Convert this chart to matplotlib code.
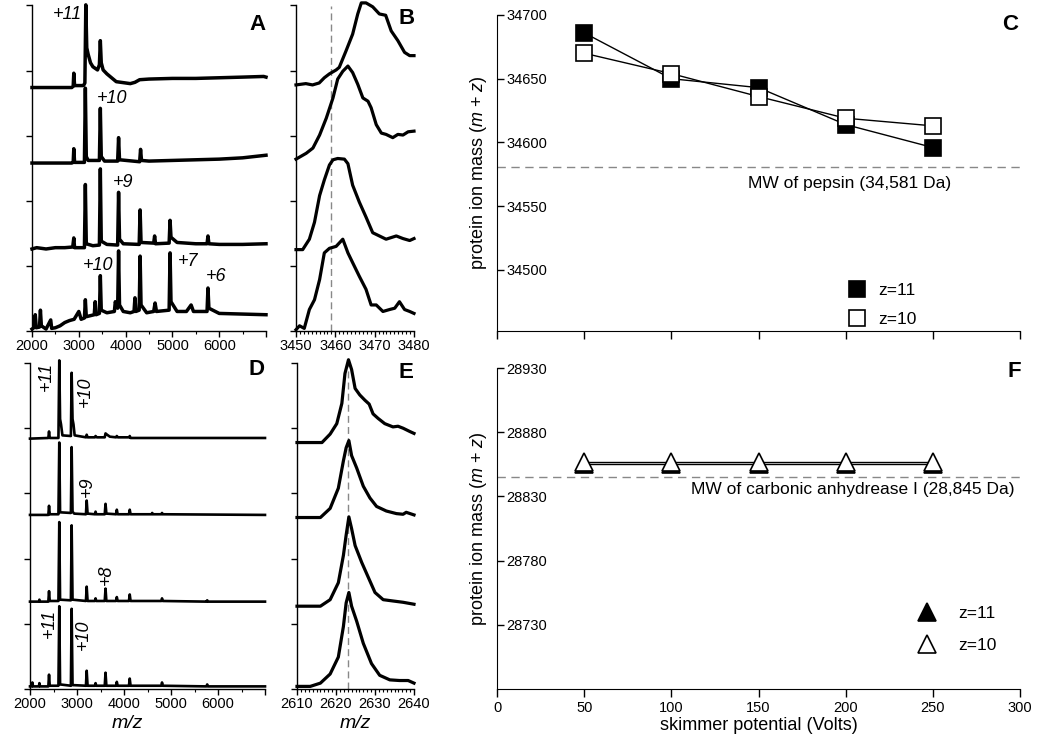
import matplotlib
matplotlib.use("Agg")
import matplotlib.pyplot as plt
from matplotlib.ticker import MultipleLocator

plt.rcParams["font.family"] = ["Liberation Sans", "DejaVu Sans"]
plt.rcParams["mathtext.fontset"] = "custom"
plt.rcParams["mathtext.rm"] = "Liberation Sans"
plt.rcParams["mathtext.it"] = "Liberation Sans:italic"

# ---------------- panel A: pepsin spectra (top -> bottom) ----------------
a_offsets = [3.74, 2.58, 1.26, 0.0]
a1_mz = [2000, 2850, 2880, 2893, 2910, 3100, 3130, 3150, 3170, 3200, 3250, 3300, 3400, 3440, 3460, 3480,
         3520, 3600, 3700, 3800, 3900, 4000, 4100, 4200, 4300, 4500, 5000, 5500, 6000, 6500, 6950, 7000]
a1_int = [0, 0, 0.02, 0.22, 0.03, 0.03, 0.07, 1.27, 0.61, 0.51, 0.38, 0.32, 0.27, 0.35, 0.72, 0.38,
          0.27, 0.21, 0.15, 0.09, 0.08, 0.07, 0.06, 0.08, 0.12, 0.13, 0.14, 0.14, 0.15, 0.16, 0.17, 0.16]
a2_mz = [2000, 2850, 2880, 2893, 2910, 3120, 3140, 3160, 3200, 3440, 3460, 3480, 3550, 3830, 3850, 3870,
         4300, 4320, 4340, 4500, 5000, 5500, 6000, 6500, 7000]
a2_int = [0, 0, 0.01, 0.22, 0.01, 0.01, 1.15, 0.10, 0.04, 0.04, 0.84, 0.10, 0.03, 0.03, 0.39, 0.05,
          0.02, 0.21, 0.04, 0.03, 0.04, 0.05, 0.06, 0.08, 0.12]
a3_mz = [2000, 2100, 2300, 2500, 2700, 2870, 2893, 2910, 3120, 3140, 3160, 3300, 3440, 3460, 3480, 3600,
         3830, 3850, 3870, 3950, 4290, 4310, 4330, 4600, 4620, 4640, 4930, 4950, 4970, 5100, 5500, 5740,
         5760, 5780, 6000, 6500, 7000]
a3_int = [0, 0.02, 0, 0.02, 0.02, 0.03, 0.17, 0.02, 0.02, 0.99, 0.08, 0.05, 0.06, 1.23, 0.12, 0.07,
          0.06, 0.87, 0.15, 0.08, 0.07, 0.60, 0.10, 0.09, 0.20, 0.08, 0.09, 0.44, 0.18, 0.10, 0.08, 0.08,
          0.20, 0.08, 0.07, 0.07, 0.08]
a4_mz = [2000, 2040, 2070, 2090, 2160, 2180, 2200, 2300, 2400, 2420, 2500, 2600, 2700, 2800, 2900, 3000,
         3050, 3120, 3140, 3160, 3330, 3350, 3370, 3440, 3460, 3480, 3600, 3760, 3780, 3830, 3850, 3870,
         3950, 4100, 4180, 4200, 4220, 4290, 4310, 4330, 4450, 4600, 4630, 4660, 4930, 4950, 4970, 5100,
         5300, 5400, 5450, 5740, 5760, 5780, 6000, 6500, 7000]
a4_int = [0.03, 0.05, 0.25, 0.05, 0.06, 0.32, 0.08, 0.03, 0.17, 0.04, 0.05, 0.08, 0.13, 0.16, 0.18, 0.30,
          0.18, 0.20, 0.48, 0.22, 0.25, 0.45, 0.25, 0.27, 0.85, 0.32, 0.28, 0.30, 0.45, 0.35, 1.23, 0.40,
          0.30, 0.28, 0.30, 0.51, 0.30, 0.32, 1.15, 0.40, 0.28, 0.30, 0.43, 0.30, 0.32, 1.20, 0.45, 0.30,
          0.30, 0.40, 0.30, 0.30, 0.66, 0.35, 0.27, 0.26, 0.25]
a_labels = ["+11", "+10", "+9", "+10", "+7", "+6"]
a_label_mz = [2749, 3713, 3949, 3413, 5340, 5940]
a_label_y = [4.86, 3.57, 2.28, 1.00, 1.06, 0.83]

# ---------------- panel B: +10 pepsin peak zoom ----------------
b_offsets = [3.78, 2.64, 1.25, 0.0]
b1_mz = [3450, 3452.5, 3454.2, 3455.9, 3457.2, 3458.5, 3460.2, 3461.0, 3462.7, 3464.4, 3465.7,
         3466.6, 3467.8, 3469.5, 3471.2, 3472.8, 3474.2, 3475.9, 3477.6, 3478.9, 3480]
b1_int = [0, 0.02, 0, 0.03, 0.11, 0.17, 0.23, 0.27, 0.52, 0.78, 1.09,
          1.26, 1.26, 1.20, 1.09, 1.07, 0.83, 0.68, 0.50, 0.45, 0.45]
b2_mz = [3450, 3452.6, 3454.3, 3456.0, 3457.7, 3459.4, 3460.6, 3461.9, 3463.2, 3464.4, 3465.7,
         3467.0, 3468.3, 3469.1, 3470.4, 3471.7, 3472.9, 3474.6, 3475.9, 3477.2, 3478.5, 3480]
b2_int = [0, 0.09, 0.17, 0.37, 0.63, 0.94, 1.23, 1.35, 1.43, 1.33, 1.15,
          0.94, 0.89, 0.79, 0.53, 0.40, 0.38, 0.33, 0.38, 0.37, 0.42, 0.43]
b3_mz = [3450, 3451.7, 3453.4, 3454.7, 3456.0, 3457.2, 3458.5, 3459.4, 3460.6, 3462.3, 3463.2,
         3464.4, 3466.1, 3467.8, 3469.5, 3471.2, 3472.9, 3475.5, 3477.2, 3478.9, 3480]
b3_int = [0, 0, 0.16, 0.42, 0.83, 1.07, 1.30, 1.38, 1.40, 1.39, 1.32,
          0.99, 0.73, 0.50, 0.26, 0.21, 0.16, 0.21, 0.17, 0.14, 0.17]
b4_mz = [3450, 3450.9, 3452.1, 3453.4, 3454.7, 3456.0, 3457.2, 3458.5, 3460.2, 3461.9, 3463.2, 3464.4,
         3466.1, 3467.8, 3469.1, 3470.4, 3472.1, 3473.8, 3475.1, 3476.3, 3477.6, 3478.9, 3480]
b4_int = [0.02, 0.08, 0.04, 0.33, 0.48, 0.79, 1.20, 1.27, 1.30, 1.41, 1.20, 1.05,
          0.84, 0.64, 0.40, 0.40, 0.30, 0.33, 0.35, 0.45, 0.33, 0.30, 0.27]
b_ref_mz = 3458.8

# ---------------- panel C: pepsin ion mass vs skimmer ----------------
volts = [50, 100, 150, 200, 250]
c_z11 = [34686, 34650, 34643, 34614, 34596]
c_z10 = [34670, 34654, 34636, 34619, 34613]
pepsin_mw = 34581

# ---------------- panel D: carbonic anhydrase spectra ----------------
d_offsets = [3.84, 2.67, 1.34, 0.04]
d1_mz = [2000, 2390, 2405, 2420, 2605, 2623, 2640, 2660, 2690, 2870, 2886, 2905, 2925, 2950, 3190, 3206,
         3225, 3380, 3395, 3420, 3590, 3607, 3640, 3700, 3830, 3847, 3870, 4110, 4122, 4140, 7000]
d1_int = [0, 0.01, 0.11, 0.01, 0.01, 1.20, 0.30, 0.22, 0.05, 0.04, 1.01, 0.30, 0.22, 0.05, 0.02, 0.06,
          0.02, 0.02, 0.04, 0.02, 0.02, 0.08, 0.06, 0.03, 0.02, 0.04, 0.02, 0.02, 0.04, 0.01, 0.01]
d2_mz = [2000, 2390, 2405, 2420, 2605, 2623, 2640, 2870, 2886, 2905, 2940, 3190, 3206, 3225, 3380, 3395,
         3410, 3590, 3607, 3625, 3830, 3847, 3865, 4105, 4122, 4140, 4590, 4600, 4620, 4795, 4809, 4825, 7000]
d2_int = [0, 0, 0.14, 0.01, 0.01, 1.11, 0.04, 0.03, 1.04, 0.05, 0.02, 0.01, 0.22, 0.02, 0.01, 0.05,
          0.01, 0.01, 0.17, 0.02, 0.01, 0.08, 0.01, 0.01, 0.08, 0.01, 0.01, 0.03, 0.01, 0.01, 0.03, 0.01, 0]
d3_mz = [2000, 2190, 2200, 2215, 2390, 2405, 2420, 2605, 2623, 2640, 2870, 2886, 2905, 3190, 3206, 3225,
         3380, 3395, 3410, 3590, 3607, 3625, 3830, 3847, 3865, 4105, 4122, 4140, 4795, 4809, 4825, 5755,
         5770, 5790, 7000]
d3_int = [0, 0, 0.03, 0, 0, 0.16, 0.01, 0.01, 1.22, 0.03, 0.02, 1.17, 0.03, 0.01, 0.23, 0.01,
          0.01, 0.05, 0.01, 0.01, 0.20, 0.01, 0.01, 0.07, 0.01, 0.01, 0.11, 0.01, 0.01, 0.05, 0.01, 0,
          0.02, 0, 0]
d4_mz = [2000, 2040, 2050, 2065, 2190, 2200, 2215, 2390, 2405, 2420, 2605, 2623, 2640, 2870, 2886, 2905,
         3190, 3206, 3225, 3380, 3395, 3410, 3590, 3607, 3625, 3830, 3847, 3865, 4105, 4122, 4140, 4795,
         4809, 4825, 5755, 5770, 5790, 7000]
d4_int = [0, 0, 0.06, 0, 0, 0.05, 0, 0, 0.18, 0.01, 0.01, 1.23, 0.03, 0.01, 1.19, 0.02,
          0.01, 0.24, 0.01, 0.01, 0.05, 0.01, 0.01, 0.21, 0.01, 0.01, 0.07, 0.01, 0.01, 0.12, 0.01, 0.01,
          0.06, 0.01, 0, 0.03, 0, 0]
d_labels = ["+11", "+10", "+9", "+8", "+11", "+10"]
d_label_mz = [2357, 3178, 3221, 3627, 2407, 3135]
d_label_y = [4.79, 4.56, 3.10, 1.75, 1.01, 0.83]

# ---------------- panel E: +11 carbonic anhydrase peak zoom ----------------
e_offsets = [3.78, 2.63, 1.27, 0.04]
e1_mz = [2610, 2616.4, 2618.5, 2620.2, 2621.5, 2622.3, 2623.2, 2624.0, 2624.9, 2626.1,
         2627.4, 2628.5, 2629.5, 2630.8, 2632.5, 2634.6, 2635.9, 2637.2, 2638.9, 2640]
e1_int = [0, 0, 0.13, 0.29, 0.60, 1.06, 1.27, 1.12, 0.83, 0.73,
          0.65, 0.59, 0.44, 0.37, 0.29, 0.24, 0.25, 0.22, 0.17, 0.14]
e2_mz = [2610, 2616.0, 2618.5, 2620.6, 2621.9, 2622.6, 2623.3, 2624.0, 2625.3,
         2627.0, 2628.7, 2630.4, 2632.9, 2635.5, 2637.2, 2638.0, 2640]
e2_int = [0, 0, 0.14, 0.45, 0.87, 1.07, 1.18, 0.95, 0.76,
          0.48, 0.30, 0.17, 0.10, 0.06, 0.05, 0.08, 0.04]
e3_mz = [2610, 2616.0, 2618.5, 2620.6, 2621.9, 2622.6, 2623.3, 2624.0,
         2624.9, 2626.6, 2628.3, 2630.0, 2632.1, 2634.6, 2637.2, 2640]
e3_int = [0, 0, 0.10, 0.36, 0.78, 1.09, 1.37, 1.19,
          0.93, 0.67, 0.44, 0.21, 0.10, 0.08, 0.06, 0.03]
e4_mz = [2610, 2613.4, 2616.0, 2618.5, 2620.6, 2621.9, 2622.6, 2623.3, 2624.0,
         2625.3, 2627.0, 2629.1, 2631.2, 2633.8, 2636.3, 2638.5, 2640]
e4_int = [0, 0, 0.05, 0.19, 0.45, 0.92, 1.28, 1.44, 1.23,
          1.00, 0.66, 0.35, 0.17, 0.10, 0.09, 0.09, 0.05]
e_ref_mz = 2623.2

# ---------------- panel F: carbonic anhydrase ion mass vs skimmer ----------------
f_z11 = [28855, 28855, 28855, 28855, 28855]
f_z10 = [28857, 28857, 28857, 28857, 28857]
ca_mw = 28845


def px(x, y):
    # figure pixel -> figure fraction
    return x / 1050, 1 - y / 749


def spec_axes(ax, xlim, majors, labels, minor):
    ax.set_xlim(*xlim)
    ax.set_ylim(0, 5)
    for s in ("top", "right"):
        ax.spines[s].set_visible(False)
    for s in ("left", "bottom"):
        ax.spines[s].set_linewidth(1.0)
    ax.set_xticks(majors, labels=labels)
    ax.xaxis.set_minor_locator(MultipleLocator(minor))
    ax.set_yticks(range(6), labels=[])
    ax.tick_params(which="major", direction="out", length=4, width=1, labelsize=10.5, pad=2)
    ax.tick_params(axis="x", which="minor", direction="out", length=2, width=0.8)


def mass_axes(ax, ylim, yticks, xlabels):
    ax.set_xlim(0, 300)
    ax.set_ylim(*ylim)
    for s in ("top", "right"):
        ax.spines[s].set_visible(False)
    ax.set_xticks(range(0, 301, 50))
    ax.set_yticks(yticks, labels=[str(v) for v in yticks], ha="left")
    ax.tick_params(axis="x", direction="out", length=6, width=1, labelsize=10.5, pad=3,
                   labelbottom=xlabels)
    ax.tick_params(axis="y", direction="in", length=5, width=1, labelsize=10.5, pad=-7)
    ax.set_ylabel("protein ion mass ($\\mathit{m}$ + $\\mathit{z}$)", fontsize=13)
    ax.yaxis.set_label_coords(-0.016, 0.5)


def marker_only_legend(ax, anchor, textpad, spacing):
    leg = ax.legend(loc="upper left", bbox_to_anchor=anchor, frameon=False, fontsize=12.5,
                    handlelength=1.0, handletextpad=textpad, labelspacing=spacing,
                    borderpad=0, borderaxespad=0)
    for line in leg.get_lines():
        line.set_linestyle("None")
    return leg


fig = plt.figure(figsize=(10.5, 7.49), dpi=100)

# axes: [left, bottom, width, height] in figure fractions
axA = fig.add_axes([32 / 1050, 1 - 331 / 749, 234 / 1050, 325.5 / 749])
axB = fig.add_axes([296 / 1050, 1 - 331 / 749, 118 / 1050, 325.5 / 749])
axC = fig.add_axes([497 / 1050, 1 - 331 / 749, 523 / 1050, 316 / 749])
axD = fig.add_axes([30 / 1050, 1 - 689 / 749, 235 / 1050, 326 / 749])
axE = fig.add_axes([297 / 1050, 1 - 689 / 749, 117 / 1050, 326 / 749])
axF = fig.add_axes([497 / 1050, 1 - 689 / 749, 523 / 1050, 321 / 749])

# --- A ---
for off, mz, it in zip(a_offsets, [a1_mz, a2_mz, a3_mz, a4_mz], [a1_int, a2_int, a3_int, a4_int]):
    axA.plot(mz, [off + v for v in it], color="black", lw=2.5, solid_joinstyle="round", clip_on=False)
for lab, x, y in zip(a_labels, a_label_mz, a_label_y):
    axA.text(x, y, lab, fontsize=13, style="italic", ha="center", va="center")
spec_axes(axA, (2000, 7000), [2000, 3000, 4000, 5000, 6000, 7000],
          ["2000", "3000", "4000", "5000", "6000", ""], 500)

# --- B ---
axB.axvline(b_ref_mz, color="#888888", lw=1, dashes=(5, 3))
for off, mz, it in zip(b_offsets, [b1_mz, b2_mz, b3_mz, b4_mz], [b1_int, b2_int, b3_int, b4_int]):
    axB.plot(mz, [off + v for v in it], color="black", lw=2.3, solid_joinstyle="round", clip_on=False)
spec_axes(axB, (3450, 3480), [3450, 3460, 3470, 3480], ["3450", "3460", "3470", "3480"], 1)

# --- D ---
for off, mz, it in zip(d_offsets, [d1_mz, d2_mz, d3_mz, d4_mz], [d1_int, d2_int, d3_int, d4_int]):
    axD.plot(mz, [off + v for v in it], color="black", lw=1.9, solid_joinstyle="round", clip_on=False)
for lab, x, y in zip(d_labels, d_label_mz, d_label_y):
    axD.text(x, y, lab, fontsize=13, style="italic", ha="center", va="center", rotation=90)
spec_axes(axD, (2000, 7000), [2000, 3000, 4000, 5000, 6000, 7000],
          ["2000", "3000", "4000", "5000", "6000", ""], 500)

# --- E ---
axE.axvline(e_ref_mz, color="#888888", lw=1, dashes=(5, 3))
for off, mz, it in zip(e_offsets, [e1_mz, e2_mz, e3_mz, e4_mz], [e1_int, e2_int, e3_int, e4_int]):
    axE.plot(mz, [off + v for v in it], color="black", lw=2.3, solid_joinstyle="round", clip_on=False)
spec_axes(axE, (2610, 2640), [2610, 2620, 2630, 2640], ["2610", "2620", "2630", "2640"], 1)

# --- C ---
axC.axhline(pepsin_mw, color="#888888", lw=1, dashes=(6, 4))
axC.plot(volts, c_z11, color="black", lw=1, marker="s", ms=11.5, mfc="black", mec="black",
         mew=1.2, label="z=11")
axC.plot(volts, c_z10, color="black", lw=1, marker="s", ms=11.5, mfc="white", mec="black",
         mew=1.2, label="z=10")
axC.text(144, 34568, "MW of pepsin (34,581 Da)", fontsize=12.5, ha="left", va="center")
mass_axes(axC, (34452, 34700), [34500, 34550, 34600, 34650, 34700], False)
marker_only_legend(axC, (0.672, 0.152), 0.7, 0.8)

# --- F ---
axF.axhline(ca_mw, color="#888888", lw=1, dashes=(6, 4))
axF.plot(volts, f_z11, color="black", lw=1, marker="^", ms=13, mfc="black", mec="black",
         mew=1.2, label="z=11")
axF.plot(volts, f_z10, color="black", lw=1, marker="^", ms=13, mfc="white", mec="black",
         mew=1.2, label="z=10")
axF.text(297, 28835, "MW of carbonic anhydrease I (28,845 Da)", fontsize=12.5, ha="right", va="center")
mass_axes(axF, (28680, 28930), [28730, 28780, 28830, 28880, 28930], True)
axF.set_xlabel("skimmer potential (Volts)", fontsize=13)
axF.xaxis.set_label_coords(0.5, -0.086)
marker_only_legend(axF, (0.805, 0.259), 1.3, 0.95)

# m/z axis titles and panel letters
fig.text(*px(127, 723), "m/z", fontsize=14, style="italic", ha="center", va="center")
fig.text(*px(355, 723), "m/z", fontsize=14, style="italic", ha="center", va="center")
for letter, x, y in [("A", 258, 25), ("B", 407, 18), ("C", 1010, 24),
                     ("D", 257, 370), ("E", 406, 373), ("F", 1014, 372)]:
    fig.text(*px(x, y), letter, fontsize=16, fontweight="bold", ha="center", va="center")

fig.savefig("out.png", dpi=100)
